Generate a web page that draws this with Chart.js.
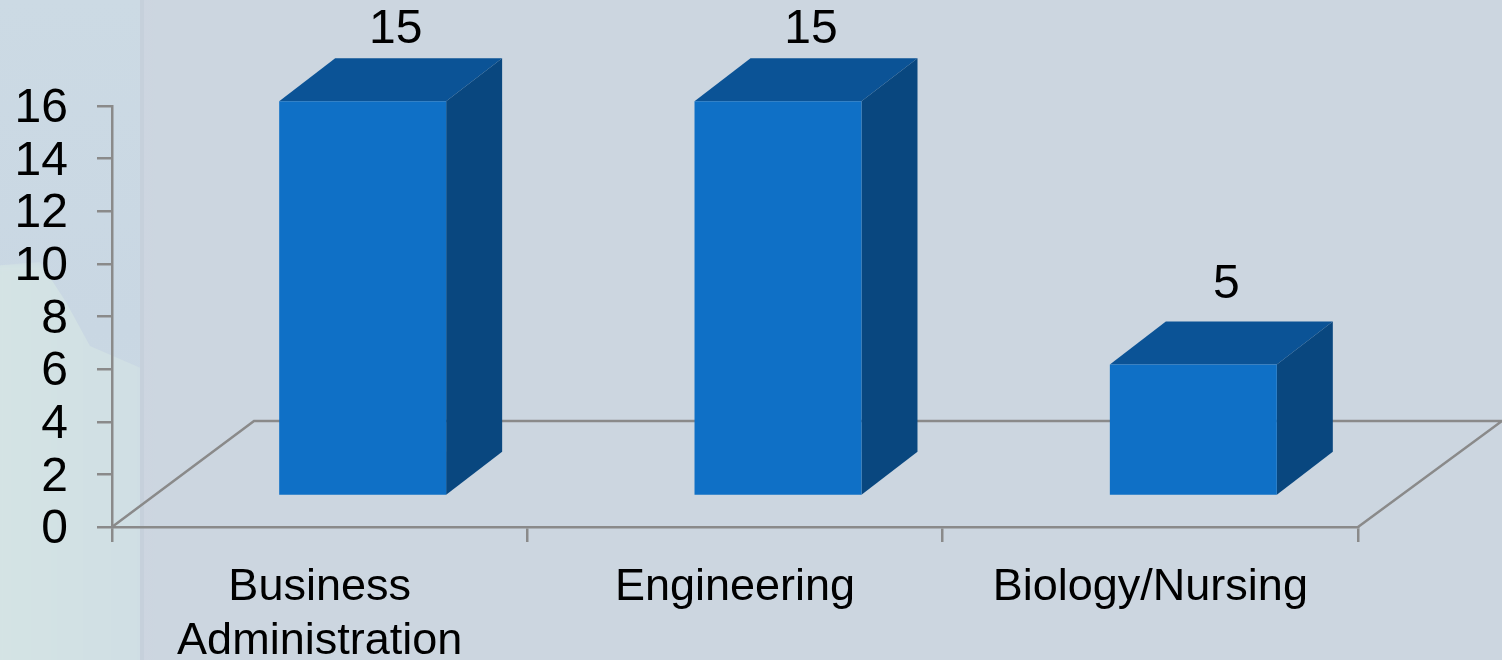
<!DOCTYPE html>
<html>
<head>
<meta charset="utf-8">
<title>Chart</title>
<script src="https://cdn.jsdelivr.net/npm/chart.js@4"></script>
<style>
  html, body { margin: 0; padding: 0; background: #ccd6e0; overflow: hidden; }
  #wrap { position: relative; width: 1502px; height: 660px; overflow: hidden; }
  /* left panel of the slide background */
  #panel { position: absolute; left: 0; top: 0; width: 140px; height: 660px;
    background: linear-gradient(180deg, #ccdae4 0%, #c9d7e3 50%, #cddce4 100%); }
  #blob { position: absolute; left: -10px; top: 262px; width: 160px; height: 410px;
    background: linear-gradient(90deg, #d4e4e4 0%, #d2e1e4 50%, #cfdee4 100%);
    clip-path: polygon(0 4px, 50px 0, 76px 40px, 100px 84px, 160px 110px, 160px 410px, 0 410px);
    filter: blur(5px); }
  #strip { position: absolute; left: 140px; top: 0; width: 4px; height: 660px; background: #c6d0db; }
  #strip2 { position: absolute; left: 144px; top: 0; width: 12px; height: 660px;
    background: linear-gradient(90deg, #cdd5e0, #ccd6e0); }
  canvas { position: absolute; left: 0; top: 0; }
</style>
</head>
<body>
<div id="wrap">
  <div id="panel"></div>
  <div id="blob"></div>
  <div id="strip"></div>
  <div id="strip2"></div>
  <canvas id="chart" width="1502" height="660"></canvas>
</div>
<script>
const categories = [['Business', 'Administration'], 'Engineering', 'Biology/Nursing'];
const values = [15, 15, 5];
const yMax = 16;
const yStep = 2;

// look of the fake 3D
const frontColor = '#0f70c6';
const topColor = '#0b5396';
const sideColor = '#09477f';
const axisColor = '#8a8a8a';
const axisWidth = 2.5;
const shiftX = 43;     // front face sits off the band centre
const shiftY = -31;
const depthX = 56;
const depthY = -43;
const labelLift = [58, 58, 66];

const box3d = {
    id: 'box3d',
    beforeDatasetsDraw(chart) {
        const ctx = chart.ctx;
        const area = chart.chartArea;

        // floor of the 3D plot
        ctx.save();
        ctx.strokeStyle = axisColor;
        ctx.lineWidth = axisWidth;
        ctx.beginPath();
        ctx.moveTo(area.left, area.bottom);
        ctx.lineTo(area.left + 142, area.bottom - 106);
        ctx.lineTo(area.right + 144, area.bottom - 106);
        ctx.lineTo(area.right, area.bottom);
        ctx.stroke();
        ctx.restore();

        chart.getDatasetMeta(0).data.forEach(function(bar) {
            const left = bar.x - bar.width / 2 + shiftX;
            const right = bar.x + bar.width / 2 + shiftX;
            const top = bar.y + shiftY;
            const bottom = bar.base + shiftY;

            ctx.fillStyle = topColor;
            ctx.beginPath();
            ctx.moveTo(left, top);
            ctx.lineTo(left + depthX, top + depthY);
            ctx.lineTo(right + depthX, top + depthY);
            ctx.lineTo(right, top);
            ctx.closePath();
            ctx.fill();

            ctx.fillStyle = sideColor;
            ctx.beginPath();
            ctx.moveTo(right, top);
            ctx.lineTo(right + depthX, top + depthY);
            ctx.lineTo(right + depthX, bottom + depthY);
            ctx.lineTo(right, bottom);
            ctx.closePath();
            ctx.fill();
        });

        // the library draws the front faces, shifted to sit on the floor
        ctx.save();
        ctx.translate(shiftX, shiftY);
    },
    afterDatasetsDraw(chart) {
        const ctx = chart.ctx;
        ctx.restore();

        ctx.save();
        ctx.fillStyle = '#000';
        ctx.font = '48px "Liberation Sans"';
        ctx.textAlign = 'center';
        ctx.textBaseline = 'alphabetic';
        chart.getDatasetMeta(0).data.forEach(function(bar, i) {
            ctx.fillText(String(values[i]), bar.x + shiftX + 33, bar.y + shiftY - labelLift[i]);
        });
        ctx.restore();
    }
};

new Chart(document.getElementById('chart').getContext('2d'), {
    type: 'bar',
    data: {
        labels: categories,
        datasets: [{
            data: values,
            backgroundColor: frontColor,
            barPercentage: 0.402,
            categoryPercentage: 1,
            clip: false
        }]
    },
    plugins: [box3d],
    options: {
        responsive: false,
        animation: false,
        layout: { padding: { top: 106, right: 144, left: 0, bottom: 0 } },
        plugins: {
            legend: { display: false },
            tooltip: { enabled: false }
        },
        scales: {
            x: {
                afterFit: function(scale) { scale.height = 133; },
                border: { color: axisColor, width: axisWidth },
                grid: { color: axisColor, lineWidth: axisWidth, drawOnChartArea: false, tickLength: 15 },
                ticks: {
                    color: '#000',
                    font: { family: '"Liberation Sans"', size: 45 },
                    padding: 19,
                    maxRotation: 0,
                    autoSkip: false
                }
            },
            y: {
                min: 0,
                max: yMax,
                afterFit: function(scale) { scale.width = 112; },
                border: { color: axisColor, width: axisWidth },
                grid: { color: axisColor, lineWidth: axisWidth, drawOnChartArea: false, tickLength: 15 },
                ticks: {
                    stepSize: yStep,
                    autoSkip: false,
                    color: '#000',
                    font: { family: '"Liberation Sans"', size: 48 },
                    padding: 29,
                    labelOffset: 3
                }
            }
        }
    }
});
</script>
</body>
</html>
